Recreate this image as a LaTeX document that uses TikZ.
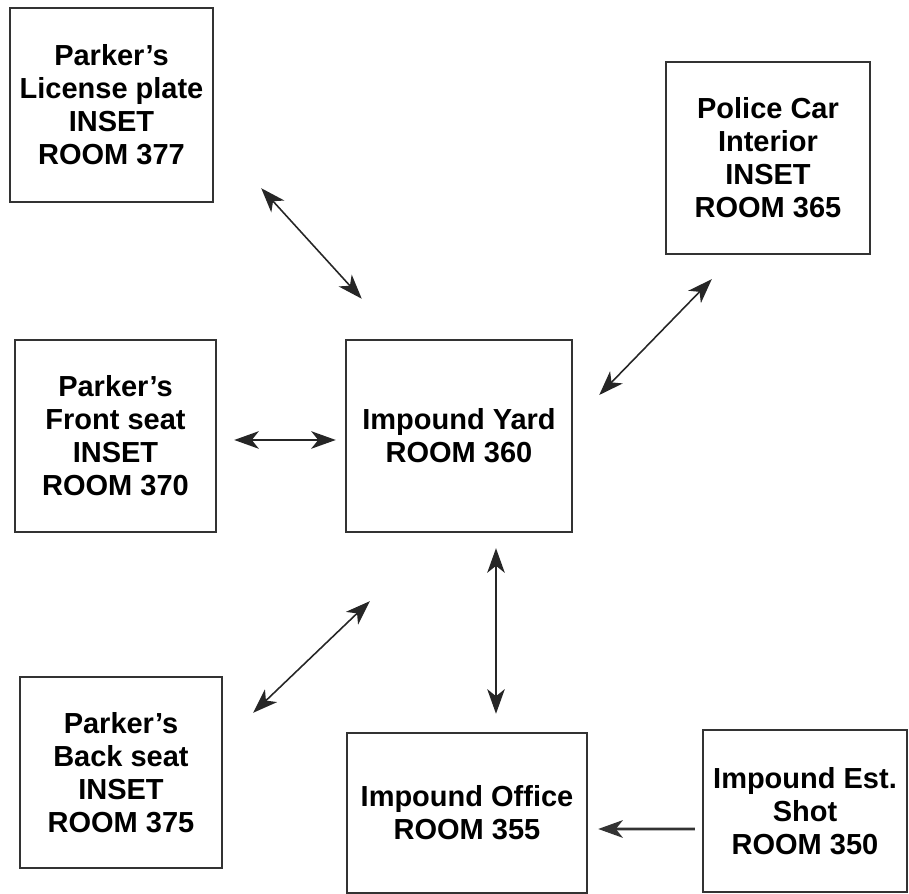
\documentclass[tikz,border=0pt]{standalone}
\usepackage{fontspec}
\setmainfont{Liberation Sans}
\usepackage{tikz}
\usetikzlibrary{shapes,arrows.meta}
\usetikzlibrary{calc}

\begin{document}
\begin{tikzpicture}[room_node/.style={rectangle,draw=black!80,line width=1.4pt,align=center,inner sep=2pt,font=\fontsize{16.5}{18.8}\selectfont\bfseries}, link/.style={black!85,line width=0.9pt,{Stealth[length=14pt,width=10pt,inset=4pt]}-{Stealth[length=14pt,width=10pt,inset=4pt]}}, one_way/.style={black!80,line width=1.6pt,-{Stealth[length=14pt,width=10pt,inset=4pt]}}]
				\useasboundingbox (0,0) rectangle (18.18,17.88);
				\node[room_node, minimum width=4.06cm, minimum height=3.88cm](1) at (2.23,15.78){Parker's\\License plate\\INSET\\ROOM 377};
				\node[room_node, minimum width=4.08cm, minimum height=3.84cm](2) at (15.36,14.72){Police Car\\Interior\\INSET\\ROOM 365};
				\node[room_node, minimum width=4.02cm, minimum height=3.84cm](3) at (2.31,9.16){Parker's\\Front seat\\INSET\\ROOM 370};
				\node[room_node, minimum width=4.52cm, minimum height=3.84cm](4) at (9.18,9.16){Impound Yard\\ROOM 360};
				\node[room_node, minimum width=4.04cm, minimum height=3.82cm](5) at (2.42,2.43){Parker's\\Back seat\\INSET\\ROOM 375};
				\node[room_node, minimum width=4.80cm, minimum height=3.20cm](6) at (9.34,1.62){Impound Office\\ROOM 355};
				\node[room_node, minimum width=4.08cm, minimum height=3.24cm](7) at (16.10,1.66){Impound Est.\\Shot\\ROOM 350};
				\path[every node/.style={}]
				([xshift=0.94cm,yshift=0.30cm]1.south east) edge[link] node {} ([xshift=0.34cm,yshift=0.80cm]4.north west)
				([xshift=0.52cm,yshift=0.82cm]4.east) edge[link] node {} ([xshift=0.94cm,yshift=-0.48cm]2.south west)
				([xshift=0.34cm,yshift=-0.08cm]3.east) edge[link] node {} ([xshift=-0.18cm,yshift=-0.08cm]4.west)
				([xshift=0.60cm,yshift=-0.74cm]5.north east) edge[link] node {} ([xshift=0.50cm,yshift=-1.36cm]4.south west)
				([xshift=0.74cm,yshift=-0.30cm]4.south) edge[link] node {} ([xshift=0.58cm,yshift=0.36cm]6.north)
				([xshift=-0.14cm,yshift=-0.36cm]7.west) edge[one_way] node {} ([xshift=0.20cm,yshift=-0.32cm]6.east);
			\end{tikzpicture}
\end{document}
